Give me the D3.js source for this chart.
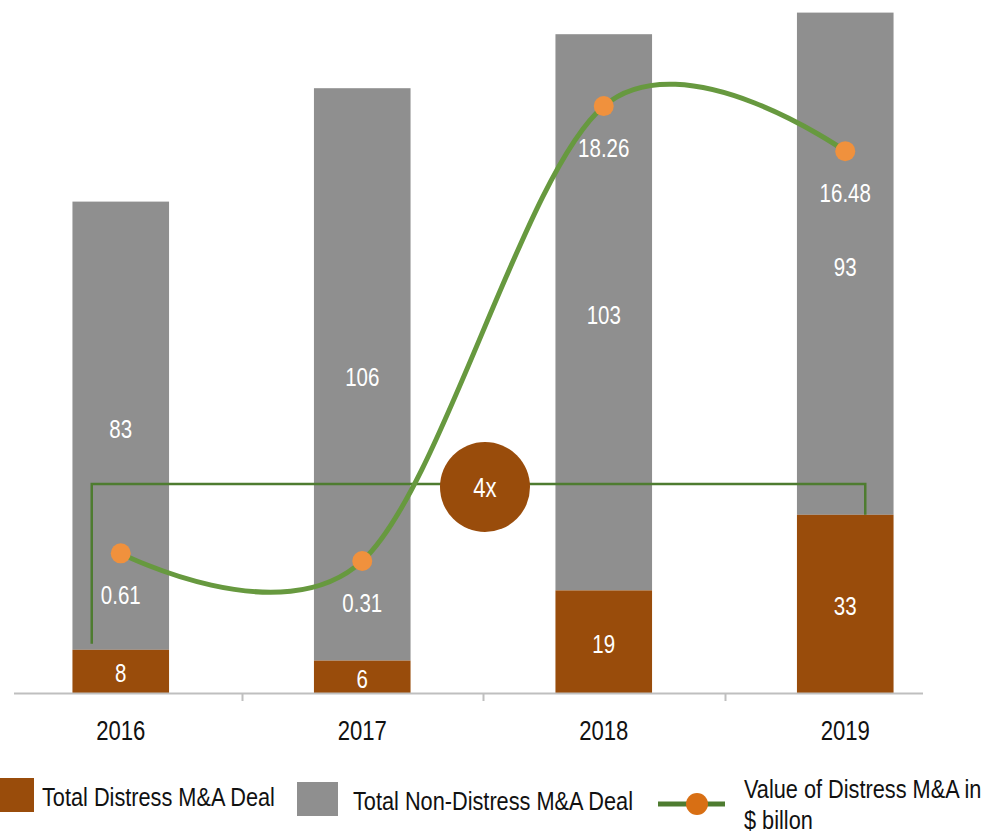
<!DOCTYPE html>
<html><head><meta charset="utf-8">
<script src="https://cdn.jsdelivr.net/npm/d3@7"></script>
<style>html,body{margin:0;padding:0;background:#fff;}svg{display:block;}</style>
</head><body>
<svg id="c" width="998" height="835"></svg>
<script>
const years = ["2016", "2017", "2018", "2019"];
const distress = [8, 6, 19, 33];
const nonDistress = [83, 106, 103, 93];
const valueBn = [0.61, 0.31, 18.26, 16.48];
const multipleLabel = "4x";
const legendLabels = ["Total Distress M&A Deal", "Total Non-Distress M&A Deal", "Value of Distress M&A in", "$ billon"];

const C = {brown:"#994c0b", gray:"#8f8f8f", green:"#67993f", dgreen:"#4e7c30", orange:"#f0913d", lorange:"#d86f14", axis:"#bfbfbf"};

// font detection: use a narrow font if installed, otherwise compress
const cv = document.createElement("canvas").getContext("2d");
cv.font = '25px "Liberation Sans Narrow", monospace';
const wN = cv.measureText("Total Distress M&A").width;
cv.font = '25px monospace';
const wM = cv.measureText("Total Distress M&A").width;
const hasNarrow = Math.abs(wN - wM) > 0.5;
const FAM = hasNarrow ? '"Liberation Sans Narrow", "Arial Narrow", sans-serif' : '"Liberation Sans", Arial, sans-serif';
const SX = hasNarrow ? 1 : 0.82;

const svg = d3.select("#c");
const x = d3.scaleBand().domain(years).range([0, 966]).paddingInner(0.6).paddingOuter(0.3);
const y = d3.scaleLinear().domain([0, 130]).range([693, -9]);
const y2 = d3.scaleLinear().domain([-4.9, 22.8]).range([693, -9]);
const cx = d => x(d) + x.bandwidth() / 2;

function txt(parent, tx, ty, s, size, fill, anchor) {
  const g = parent.append("g").attr("transform", `translate(${tx},${ty}) scale(${SX},1)`);
  return g.append("text").attr("x", 0).attr("y", 0).attr("text-anchor", anchor || "middle")
    .attr("font-family", FAM).attr("font-size", size).attr("fill", fill).text(s);
}

// bars
const bars = svg.append("g");
years.forEach((yr, i) => {
  bars.append("rect").attr("x", x(yr)).attr("width", x.bandwidth())
    .attr("y", y(distress[i] + nonDistress[i])).attr("height", y(distress[i]) - y(distress[i] + nonDistress[i]))
    .attr("fill", C.gray);
  bars.append("rect").attr("x", x(yr)).attr("width", x.bandwidth())
    .attr("y", y(distress[i])).attr("height", y(0) - y(distress[i]))
    .attr("fill", C.brown);
});

// axis
svg.append("line").attr("x1", 14).attr("x2", 923).attr("y1", y(0) + 0.5).attr("y2", y(0) + 0.5)
  .attr("stroke", C.axis).attr("stroke-width", 2);
years.slice(1).forEach(yr => {
  const tx = Math.round(x(yr) - x.step() * x.paddingInner() / 2) + 0.5;
  svg.append("line").attr("x1", tx).attr("x2", tx).attr("y1", y(0)).attr("y2", y(0) + 8)
    .attr("stroke", C.axis).attr("stroke-width", 2);
});
years.forEach(yr => txt(svg, cx(yr), 740, yr, 27, "#111"));

// bar labels
years.forEach((yr, i) => {
  txt(svg, cx(yr), (y(0) + y(distress[i])) / 2 + 11, String(distress[i]), 25, "#fff");
  txt(svg, cx(yr), (y(distress[i]) + y(distress[i] + nonDistress[i])) / 2 + 12, String(nonDistress[i]), 25, "#fff");
});

// bracket
const bx1 = cx(years[0]) - 29, bx2 = cx(years[3]) + 20, by = 484;
svg.append("path")
  .attr("d", `M${bx1},${y(distress[0]) - 6}V${by}H${bx2}V${y(distress[3])}`)
  .attr("fill", "none").attr("stroke", C.dgreen).attr("stroke-width", 2.5);

// line
const line = d3.line().x((d, i) => cx(years[i])).y(d => y2(d)).curve(d3.curveCardinal.tension(0));
svg.append("path").attr("d", line(valueBn)).attr("fill", "none")
  .attr("stroke", C.green).attr("stroke-width", 5);
valueBn.forEach((v, i) => {
  svg.append("circle").attr("cx", cx(years[i])).attr("cy", y2(v)).attr("r", 10).attr("fill", C.orange);
  txt(svg, cx(years[i]), y2(v) + 51, v.toFixed(2), 25, "#fff");
});

// multiple circle
svg.append("circle").attr("cx", 485).attr("cy", 487).attr("r", 45).attr("fill", C.brown);
txt(svg, 485, 497, multipleLabel, 27, "#fff");

// legend
svg.append("rect").attr("x", 0).attr("y", 778).attr("width", 34).attr("height", 34).attr("fill", C.brown);
txt(svg, 42, 806, legendLabels[0], 26.5, "#111", "start");
svg.append("rect").attr("x", 297).attr("y", 782).attr("width", 41).attr("height", 34).attr("fill", C.gray);
txt(svg, 353, 810, legendLabels[1], 26.5, "#111", "start");
svg.append("line").attr("x1", 658).attr("x2", 725).attr("y1", 804).attr("y2", 804)
  .attr("stroke", C.dgreen).attr("stroke-width", 5);
svg.append("circle").attr("cx", 697).attr("cy", 804).attr("r", 11).attr("fill", C.lorange);
txt(svg, 744, 798, legendLabels[2], 26.5, "#111", "start");
txt(svg, 744, 829, legendLabels[3], 26.5, "#111", "start");
</script>
</body></html>
